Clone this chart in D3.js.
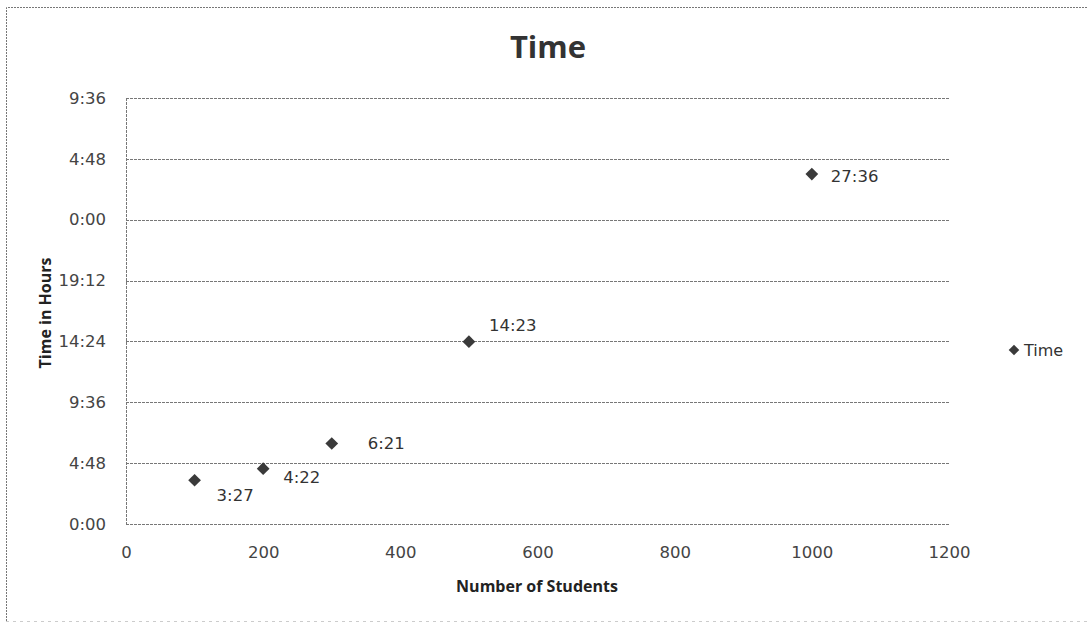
<!DOCTYPE html>
<html>
<head>
<meta charset="utf-8">
<script src="https://cdn.jsdelivr.net/npm/d3@7"></script>
<style>
  body { margin: 0; background: #fff; }
  text { font-family: "DejaVu Sans", sans-serif; }
</style>
</head>
<body>
<div id="chart"></div>
<script>
// data
const students = [100, 200, 300, 500, 1000];
const hours = [3 + 27 / 60, 4 + 22 / 60, 6 + 21 / 60, 14 + 23 / 60, 27 + 36 / 60];
const pointLabels = ["3:27", "4:22", "6:21", "14:23", "27:36"];
const xTicks = [0, 200, 400, 600, 800, 1000, 1200];
const yTicks = [0, 4.8, 9.6, 14.4, 19.2, 24, 28.8, 33.6];
const yTickLabels = ["0:00", "4:48", "9:36", "14:24", "19:12", "0:00", "4:48", "9:36"];
// where each data label sits relative to its marker
const labelDx = [22, 20, 36, 20, 19];
const labelDy = [15, 9, 0, -16, 2];

const W = 1087, H = 623;
const plot = { left: 126, right: 949, top: 98, bottom: 524 };

const svg = d3.select("#chart").append("svg")
    .attr("width", W)
    .attr("height", H);

// outer frame (left, top, bottom only like the scan)
svg.append("path")
    .attr("d", `M6.5,621 L6.5,7.5 L1087,7.5`)
    .attr("fill", "none")
    .attr("stroke", "#777")
    .attr("stroke-width", 1)
    .attr("stroke-dasharray", "2,1");
svg.append("line")
    .attr("x1", 6).attr("x2", 1087)
    .attr("y1", 621.5).attr("y2", 621.5)
    .attr("stroke", "#ccc")
    .attr("stroke-dasharray", "3,4");

const x = d3.scaleLinear().domain([0, 1200]).range([plot.left, plot.right]);
const y = d3.scaleLinear().domain([0, 33.6]).range([plot.bottom, plot.top]);

// gridlines
svg.append("g")
    .selectAll("line")
    .data(yTicks)
    .enter().append("line")
    .attr("x1", plot.left).attr("x2", plot.right)
    .attr("y1", d => Math.round(y(d)) + 0.5)
    .attr("y2", d => Math.round(y(d)) + 0.5)
    .attr("stroke", "#777")
    .attr("stroke-width", 1)
    .attr("stroke-dasharray", "3,1");

// y axis line
svg.append("line")
    .attr("x1", plot.left + 0.5).attr("x2", plot.left + 0.5)
    .attr("y1", plot.top).attr("y2", plot.bottom)
    .attr("stroke", "#777")
    .attr("stroke-dasharray", "3,1");

// y tick labels
const yAxis = d3.axisLeft(y)
    .tickValues(yTicks)
    .tickFormat((d, i) => yTickLabels[i])
    .tickSize(0)
    .tickPadding(20);
const gy = svg.append("g")
    .attr("transform", `translate(${plot.left},0)`)
    .call(yAxis);
gy.select(".domain").remove();
gy.selectAll("text")
    .style("font-family", "DejaVu Sans, sans-serif")
    .style("font-size", "16.5px")
    .attr("fill", "#444");

// x tick labels
const xAxis = d3.axisBottom(x)
    .tickValues(xTicks)
    .tickFormat(d3.format("d"))
    .tickSize(0)
    .tickPadding(22);
const gx = svg.append("g")
    .attr("transform", `translate(0,${plot.bottom})`)
    .call(xAxis);
gx.select(".domain").remove();
gx.selectAll("text")
    .style("font-family", "DejaVu Sans, sans-serif")
    .style("font-size", "16.5px")
    .attr("fill", "#444");

// markers: square turned 45 degrees, like Excel's diamond
const diamond = d3.symbol().type(d3.symbolSquare).size(81);
const pts = svg.append("g")
    .selectAll("g")
    .data(students)
    .enter().append("g")
    .attr("transform", (d, i) => `translate(${x(d)},${y(hours[i])})`);

pts.append("path")
    .attr("d", diamond)
    .attr("transform", "rotate(45)")
    .attr("fill", "#3a3a3a");

pts.append("text")
    .attr("x", (d, i) => labelDx[i])
    .attr("y", (d, i) => labelDy[i])
    .attr("dy", "0.35em")
    .style("font-size", "16.5px")
    .attr("fill", "#333")
    .text((d, i) => pointLabels[i]);

// title
svg.append("text")
    .attr("x", 548)
    .attr("y", 58)
    .attr("text-anchor", "middle")
    .style("font-family", "Open Sans, sans-serif")
    .style("font-size", "31px")
    .style("font-weight", "bold")
    .attr("fill", "#333")
    .text("Time");

// axis titles
svg.append("text")
    .attr("x", 537)
    .attr("y", 592)
    .attr("text-anchor", "middle")
    .style("font-family", "Open Sans, sans-serif")
    .style("font-size", "16px")
    .style("font-weight", "bold")
    .attr("fill", "#222")
    .text("Number of Students");

svg.append("text")
    .attr("transform", "translate(51,313) rotate(-90)")
    .attr("text-anchor", "middle")
    .style("font-family", "Open Sans, sans-serif")
    .style("font-size", "16px")
    .style("font-weight", "bold")
    .attr("fill", "#222")
    .text("Time in Hours");

// legend
const legend = svg.append("g").attr("transform", "translate(1014,350)");
legend.append("path")
    .attr("d", d3.symbol().type(d3.symbolSquare).size(56))
    .attr("transform", "rotate(45)")
    .attr("fill", "#3a3a3a");
legend.append("text")
    .attr("x", 10)
    .attr("dy", "0.35em")
    .style("font-size", "16px")
    .attr("fill", "#333")
    .text("Time");
</script>
</body>
</html>
